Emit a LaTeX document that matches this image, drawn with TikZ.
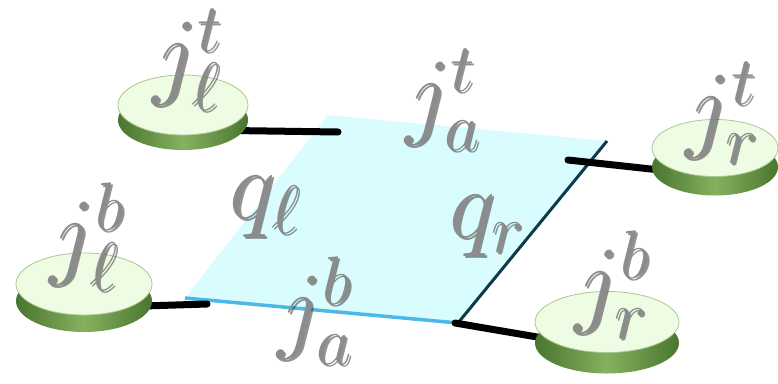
\documentclass[tikz,border=0pt]{standalone}
\usepackage{fix-cm}
\usepackage{tikz}
\usetikzlibrary{shapes.geometric,backgrounds}
\definecolor{plane}{HTML}{D9FDFF}
\definecolor{planeedge}{HTML}{4DB7E5}
\definecolor{planeside}{HTML}{0E3B4A}
\definecolor{disktop}{HTML}{EDFCE3}
\definecolor{diskrim}{HTML}{A9C793}
\definecolor{diskdark}{HTML}{4A752F}
\definecolor{disklight}{HTML}{85B15F}
\definecolor{labgray}{HTML}{8C8C8C}
\definecolor{labshade}{HTML}{3A3A3A}
\tikzset{
  disk/.style args={#1/#2/#3}{ellipse,minimum width=#1,minimum height=#2,inner sep=0pt,
              draw=diskrim,line width=0.8pt,fill=disktop,
              preaction={transform canvas={yshift=-#3},draw=none,
                         left color=diskdark,right color=diskdark,middle color=disklight}},
  lab/.style={text=labgray,inner sep=0pt,font=\fontsize{98}{110}\selectfont},
  labshadow/.style={lab,text=labshade,opacity=0.55},
  bar/.style={line width=7pt,line cap=round,draw=black},
}
\newcommand{\lbl}[3]{%
  \node[labshadow] (#1s) at ([shift={(2,2)}]#2) {#3};
  \node[lab] (#1) at (#2) {#3};}

\begin{document}
\begin{tikzpicture}[x=1pt,y=-1pt]
  \useasboundingbox (0,0) rectangle (778,383);
  % the four junction disks
  \node[disk=130pt/60pt/15pt] (jlt) at (183,105) {};
  \node[disk=136pt/62pt/17pt] (jlb) at (84,284) {};
  \node[disk=126pt/57pt/19pt] (jrt) at (715,148) {};
  \node[disk=144pt/61pt/21pt] (jrb) at (607,322) {};
  % corners of the plaquette and bar ends
  \coordinate (pa) at (328,115);
  \coordinate (pb) at (607,141);
  \coordinate (pc) at (458,323);
  \coordinate (pd) at (185,298);
  \coordinate (tl) at (338,132);
  \coordinate (bl) at (207,304);
  \coordinate (tr) at (568,160);
  \coordinate (br) at (455,323);
  \begin{scope}[on background layer]
    \fill[plane] (pa) -- (pb) -- (pc) -- (pd) -- cycle;
    \draw[planeedge,line width=3.5pt] (pd) -- (pc);
    \draw[planeside,line width=3pt] (pb) -- (pc);
    \draw[bar] (jlt.-35) -- (tl);
    \draw[bar] (jlb.-25) -- (bl);
    \draw[bar] (jrt.215) -- (tr);
    \draw[bar] (jrb.195) -- (br);
  \end{scope}
  % labels
  \lbl{ljt}{187,60}{$j^t_\ell$}
  \lbl{ljb}{87,237}{$j^b_\ell$}
  \lbl{ljat}{443,100}{$j^t_a$}
  \lbl{ljrt}{722,113}{$j^t_r$}
  \lbl{lql}{265,207}{$q_\ell$}
  \lbl{lqr}{487,226}{$q_r$}
  \lbl{ljrb}{612,285}{$j^b_r$}
  \lbl{ljab}{315,311}{$j^b_a$}
\end{tikzpicture}
\end{document}
